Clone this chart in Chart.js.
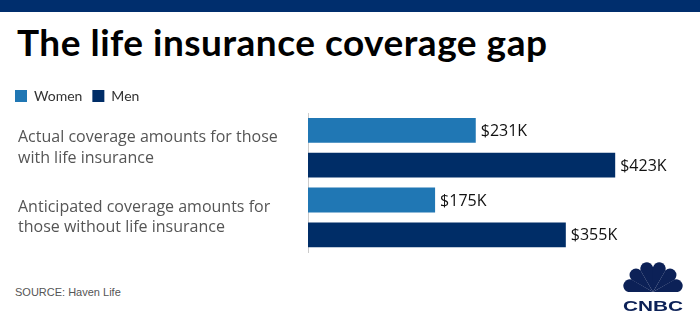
<!DOCTYPE html>
<html lang="en">
<head>
    <meta charset="UTF-8">
    <title>The life insurance coverage gap</title>
    <script src="https://cdn.jsdelivr.net/npm/chart.js"></script>
    <style>
        body {
            margin: 0;
            width: 700px;
            height: 325px;
            position: relative;
            overflow: hidden;
            background: #fff;
            font-family: Lato, "Open Sans", sans-serif;
        }
        .band {
            position: absolute;
            left: 0; top: 0;
            width: 700px; height: 12px;
            background: #002e6d;
        }
        h1 {
            position: absolute;
            left: 17px; top: 19px;
            margin: 0;
            font-size: 37px;
            font-weight: 700;
            color: #000;
            letter-spacing: 0.5px;
        }
        .chart {
            position: absolute;
            left: 0; top: 79px;
            width: 700px; height: 197px;
        }
        .source {
            position: absolute;
            left: 15px; top: 286px;
            font-family: "Liberation Sans", Arial, sans-serif;
            font-size: 11px;
            color: #555;
        }
        .logo {
            position: absolute;
            left: 622px; top: 260px;
        }
    </style>
</head>
<body>
    <div class="band"></div>
    <h1>The life insurance coverage gap</h1>
    <div class="chart"><canvas id="myChart"></canvas></div>
    <div class="source">SOURCE: Haven Life</div>
    <svg class="logo" width="62" height="53" viewBox="0 0 62 53">
        <g fill="#0c2157" transform="translate(31 32)">
            <path transform="rotate(-75)" d="M0 0 L-6.5 -24 A6.5 6.5 0 0 1 6.5 -24 Z"/>
            <path transform="rotate(-45)" d="M0 0 L-6.5 -24 A6.5 6.5 0 0 1 6.5 -24 Z"/>
            <path transform="rotate(-15)" d="M0 0 L-6.5 -24 A6.5 6.5 0 0 1 6.5 -24 Z"/>
            <path transform="rotate(15)" d="M0 0 L-6.5 -24 A6.5 6.5 0 0 1 6.5 -24 Z"/>
            <path transform="rotate(45)" d="M0 0 L-6.5 -24 A6.5 6.5 0 0 1 6.5 -24 Z"/>
            <path transform="rotate(75)" d="M0 0 L-6.5 -24 A6.5 6.5 0 0 1 6.5 -24 Z"/>
        </g>
        <text x="31" y="51" text-anchor="middle" textLength="60" lengthAdjust="spacingAndGlyphs" font-family="'Liberation Sans', Arial, sans-serif" font-weight="700" font-size="15" fill="#0c2157">CNBC</text>
    </svg>
    <script>
        const groups = [
            ['Actual coverage amounts for those', 'with life insurance'],
            ['Anticipated coverage amounts for', 'those without life insurance']
        ];
        const women = [231, 175];
        const men = [423, 355];
        const seriesNames = ['Women', 'Men'];

        // "$231K" labels at the end of each bar
        const valueLabels = {
            id: 'valueLabels',
            afterDatasetsDraw(chart) {
                const ctx = chart.ctx;
                ctx.save();
                ctx.font = '16px "Open Sans", Lato, sans-serif';
                ctx.fillStyle = '#111';
                ctx.textAlign = 'left';
                ctx.textBaseline = 'middle';
                chart.data.datasets.forEach((ds, i) => {
                    chart.getDatasetMeta(i).data.forEach((bar, j) => {
                        ctx.fillText('$' + ds.data[j] + 'K', bar.x + 5, bar.y + 1);
                    });
                });
                ctx.restore();
            }
        };

        // legend sits at the far left; move the category labels in a bit
        const shiftLabels = {
            id: 'shiftLabels',
            afterLayout(chart) {
                const y = chart.scales.y;
                y.left += 13;
                y.width -= 13;
            }
        };

        const ctx = document.getElementById('myChart').getContext('2d');
        const myChart = new Chart(ctx, {
            type: 'bar',
            data: {
                labels: groups,
                datasets: [{
                    label: seriesNames[0],
                    data: women,
                    backgroundColor: '#2077b4'
                }, {
                    label: seriesNames[1],
                    data: men,
                    backgroundColor: '#002d67'
                }]
            },
            options: {
                indexAxis: 'y',
                responsive: true,
                maintainAspectRatio: false,
                animation: false,
                categoryPercentage: 1,
                barPercentage: 0.714,
                layout: { padding: { left: 5, right: 10, top: 0, bottom: 7 } },
                plugins: {
                    legend: {
                        align: 'start',
                        labels: {
                            boxWidth: 12,
                            boxHeight: 12,
                            padding: 10,
                            color: '#333',
                            font: { family: 'Lato, "Open Sans", sans-serif', size: 14 }
                        }
                    },
                    tooltip: { enabled: false }
                },
                scales: {
                    x: {
                        min: 0,
                        max: 526,
                        display: false
                    },
                    y: {
                        grid: { display: false },
                        border: { display: true, color: '#cccccc', width: 1 },
                        ticks: {
                            crossAlign: 'far',
                            color: '#555',
                            font: { family: '"Open Sans", Lato, sans-serif', size: 16, lineHeight: 1.3 }
                        },
                        afterFit(scale) { scale.width = 303; }
                    }
                }
            },
            plugins: [valueLabels, shiftLabels]
        });
    </script>
</body>
</html>
